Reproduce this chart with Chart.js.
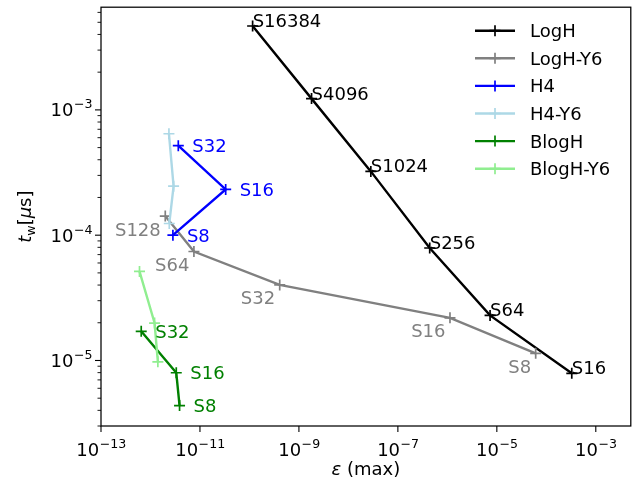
<!DOCTYPE html>
<html>
<head>
<meta charset="utf-8">
<script src="https://cdn.jsdelivr.net/npm/chart.js@4.4.0/dist/chart.umd.min.js"></script>
<style>
  html, body { margin: 0; padding: 0; background: #ffffff; }
  canvas { display: block; }
</style>
</head>
<body>
<canvas id="chart" width="638" height="487"></canvas>
<script>
// ---- data: max error (epsilon) vs. wall time per call (t_w, in microseconds) ----
const logHLabels   = ['S16384', 'S4096', 'S1024', 'S256', 'S64', 'S16'];
const logHEps      = [1.16e-10, 1.8e-9, 2.84e-8, 4.4e-7, 7.3e-6, 3.27e-4];
const logHTw       = [4.67e-3, 1.23e-3, 3.23e-4, 7.9e-5, 2.29e-5, 7.9e-6];

const logHY6Labels = ['S128', 'S64', 'S32', 'S16', 'S8'];
const logHY6Eps    = [1.99e-12, 7.55e-12, 4.09e-10, 1.13e-6, 6.1e-5];
const logHY6Tw     = [1.42e-4, 7.41e-5, 4.01e-5, 2.19e-5, 1.14e-5];

const h4Labels     = ['S32', 'S16', 'S8'];
const h4Eps        = [3.65e-12, 3.31e-11, 2.84e-12];
const h4Tw         = [5.18e-4, 2.32e-4, 1.0e-4];

const h4Y6Eps      = [2.36e-12, 2.93e-12, 2.40e-12];
const h4Y6Tw       = [6.45e-4, 2.46e-4, 1.24e-4];

const blogHLabels  = ['S32', 'S16', 'S8'];
const blogHEps     = [6.5e-13, 3.32e-12, 3.87e-12];
const blogHTw      = [1.71e-5, 7.98e-6, 4.37e-6];

const blogHY6Eps   = [6.0e-13, 1.21e-12, 1.41e-12];
const blogHY6Tw    = [5.14e-5, 1.99e-5, 9.76e-6];

// axis ranges and labelled decades
const xMin = 1e-13, xMax = 5.1e-3;
const yMin = 3.0e-6, yMax = 6.6e-3;
const xTickExps = [-13, -11, -9, -7, -5, -3];
const yTickExps = [-5, -4, -3];

const FONT = '"DejaVu Sans", sans-serif';
const FS = 18;

const series = [
  { name: 'LogH',     color: '#000000', eps: logHEps,    tw: logHTw,    labels: logHLabels,   place: 'upRight' },
  { name: 'LogH-Y6',  color: '#808080', eps: logHY6Eps,  tw: logHY6Tw,  labels: logHY6Labels, place: 'downLeft' },
  { name: 'H4',       color: '#0000ff', eps: h4Eps,      tw: h4Tw,      labels: h4Labels,     place: 'right' },
  { name: 'H4-Y6',    color: '#add8e6', eps: h4Y6Eps,    tw: h4Y6Tw,    labels: null,         place: null },
  { name: 'BlogH',    color: '#008000', eps: blogHEps,   tw: blogHTw,   labels: blogHLabels,  place: 'right' },
  { name: 'BlogH-Y6', color: '#90ee90', eps: blogHY6Eps, tw: blogHY6Tw, labels: null,         place: null }
];

const LW = 2.4;

const datasets = series.map((s, i) => ({
  label: s.name,
  data: s.eps.map((e, k) => ({ x: e, y: s.tw[k] })),
  borderColor: s.color,
  backgroundColor: s.color,
  pointBorderColor: s.color,
  borderWidth: LW,
  pointStyle: 'cross',
  pointRadius: 5.5,
  pointHoverRadius: 5.5,
  pointBorderWidth: 1.7,
  showLine: true,
  tension: 0,
  fill: false,
  order: series.length - i,
  pointLabels: s.labels,
  labelPlace: s.place
}));

// "10" with a raised exponent, as drawn on the tick labels
function drawPow(ctx, exp, x, y, align) {
  const base = '10';
  const sup = '\u2212' + Math.abs(exp);
  ctx.font = FS + 'px ' + FONT;
  const w1 = ctx.measureText(base).width;
  ctx.font = (FS * 0.7) + 'px ' + FONT;
  const w2 = ctx.measureText(sup).width;
  const x0 = align === 'center' ? x - (w1 + w2) / 2 : x - (w1 + w2);
  ctx.textAlign = 'left';
  ctx.textBaseline = 'alphabetic';
  ctx.fillStyle = '#000';
  ctx.font = FS + 'px ' + FONT;
  ctx.fillText(base, x0, y);
  ctx.font = (FS * 0.7) + 'px ' + FONT;
  ctx.fillText(sup, x0 + w1 + 0.5, y - 8);
}

const axesPlugin = {
  id: 'logAxes',
  afterDatasetsDraw(chart) {
    const ctx = chart.ctx;
    const a = chart.chartArea;
    const xs = chart.scales.x, ys = chart.scales.y;

    // point labels
    chart.data.datasets.forEach(ds => {
      if (!ds.pointLabels) return;
      ctx.save();
      ctx.font = FS + 'px ' + FONT;
      ctx.fillStyle = ds.borderColor;
      ctx.textBaseline = 'alphabetic';
      ds.data.forEach((p, k) => {
        const px = xs.getPixelForValue(p.x);
        const py = ys.getPixelForValue(p.y);
        const t = ds.pointLabels[k];
        if (ds.labelPlace === 'upRight') {
          ctx.textAlign = 'left';
          ctx.fillText(t, px, py + 1);
        } else if (ds.labelPlace === 'downLeft') {
          ctx.textAlign = 'right';
          ctx.fillText(t, px - 4.5, py + 19.5);
        } else {
          ctx.textAlign = 'left';
          ctx.fillText(t, px + 14, py + 6.5);
        }
      });
      ctx.restore();
    });

    ctx.save();
    // frame
    ctx.strokeStyle = '#000';
    ctx.lineWidth = 1.25;
    ctx.strokeRect(a.left, a.top, a.right - a.left, a.bottom - a.top);

    // x ticks
    ctx.lineWidth = 1.1;
    xs.ticks.forEach(t => {
      const px = xs.getPixelForValue(t.value);
      ctx.beginPath();
      ctx.moveTo(px, a.bottom);
      ctx.lineTo(px, a.bottom + 6);
      ctx.stroke();
      drawPow(ctx, t.exp, px, a.bottom + 30, 'center');
    });

    // y ticks
    ys.ticks.forEach(t => {
      const py = ys.getPixelForValue(t.value);
      const len = t.major ? 6 : 3.5;
      ctx.lineWidth = t.major ? 1.1 : 0.9;
      ctx.beginPath();
      ctx.moveTo(a.left, py);
      ctx.lineTo(a.left - len, py);
      ctx.stroke();
      if (t.major) drawPow(ctx, t.exp, a.left - 9, py + 6.5, 'right');
    });

    // x title: epsilon (max)
    ctx.fillStyle = '#000';
    ctx.textBaseline = 'alphabetic';
    const midX = (a.left + a.right) / 2;
    ctx.font = 'italic ' + FS + 'px ' + FONT;
    const wE = ctx.measureText('\u03b5').width;
    ctx.font = FS + 'px ' + FONT;
    const wR = ctx.measureText(' (max)').width;
    let x0 = midX - (wE + wR) / 2;
    ctx.textAlign = 'left';
    ctx.font = 'italic ' + FS + 'px ' + FONT;
    ctx.fillText('\u03b5', x0, 475);
    ctx.font = FS + 'px ' + FONT;
    ctx.fillText(' (max)', x0 + wE, 475);

    // y title: t_w [mu s], rotated
    const parts = [
      { t: 't', f: 'italic ' + FS + 'px ' + FONT, dy: 0 },
      { t: 'w', f: (FS * 0.7) + 'px ' + FONT, dy: 3.5 },
      { t: '[', f: FS + 'px ' + FONT, dy: 0 },
      { t: '\u03bc', f: 'italic ' + FS + 'px ' + FONT, dy: 0 },
      { t: 's', f: FS + 'px ' + FONT, dy: 0 },
      { t: ']', f: FS + 'px ' + FONT, dy: 0 }
    ];
    let total = 0;
    parts.forEach(p => { ctx.font = p.f; p.w = ctx.measureText(p.t).width; total += p.w; });
    ctx.translate(31, (a.top + a.bottom) / 2);
    ctx.rotate(-Math.PI / 2);
    let cx = -total / 2;
    parts.forEach(p => {
      ctx.font = p.f;
      ctx.fillText(p.t, cx, p.dy);
      cx += p.w;
    });
    ctx.restore();

    // legend
    ctx.save();
    const rowY0 = 30.7, rowH = 27.6;
    chart.data.datasets.forEach((ds, i) => {
      const y = rowY0 + i * rowH;
      ctx.strokeStyle = ds.borderColor;
      ctx.lineWidth = LW;
      ctx.beginPath();
      ctx.moveTo(475, y);
      ctx.lineTo(515, y);
      ctx.stroke();
      ctx.lineWidth = 1.7;
      ctx.beginPath();
      ctx.moveTo(495 - 5.5, y); ctx.lineTo(495 + 5.5, y);
      ctx.moveTo(495, y - 5.5); ctx.lineTo(495, y + 5.5);
      ctx.stroke();
      ctx.fillStyle = '#000';
      ctx.font = FS + 'px ' + FONT;
      ctx.textAlign = 'left';
      ctx.textBaseline = 'alphabetic';
      ctx.fillText(ds.label, 530, y + 6.5);
    });
    ctx.restore();
  }
};

new Chart(document.getElementById('chart'), {
  type: 'scatter',
  data: { datasets },
  options: {
    responsive: false,
    animation: false,
    devicePixelRatio: 1,
    layout: { padding: { top: 5, right: 7, left: 0, bottom: 0 } },
    plugins: { legend: { display: false }, tooltip: { enabled: false } },
    events: [],
    scales: {
      x: {
        type: 'logarithmic',
        min: xMin, max: xMax,
        grid: { display: false },
        border: { display: false },
        ticks: { display: false },
        afterBuildTicks(scale) {
          scale.ticks = xTickExps.map(e => ({ value: Math.pow(10, e), major: true, exp: e }));
        },
        afterFit(scale) { scale.height = 61; }
      },
      y: {
        type: 'logarithmic',
        min: yMin, max: yMax,
        grid: { display: false },
        border: { display: false },
        ticks: { display: false },
        afterBuildTicks(scale) {
          const ticks = [];
          const lo = Math.floor(Math.log10(yMin)), hi = Math.ceil(Math.log10(yMax));
          for (let e = lo; e <= hi; e++) {
            for (let m = 1; m <= 9; m++) {
              const v = m * Math.pow(10, e);
              if (v >= yMin && v <= yMax) {
                ticks.push({ value: v, major: m === 1 && yTickExps.includes(e), exp: e });
              }
            }
          }
          scale.ticks = ticks;
        },
        afterFit(scale) { scale.width = 101; }
      }
    }
  },
  plugins: [axesPlugin]
});
</script>
</body>
</html>
